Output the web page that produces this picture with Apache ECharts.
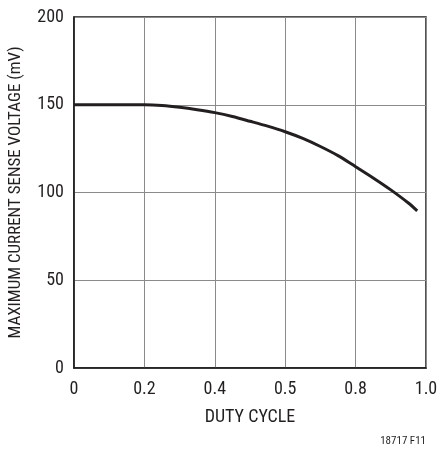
<!DOCTYPE html>
<html>
<head>
<meta charset="utf-8">
<script src="https://cdn.jsdelivr.net/npm/echarts@6/dist/echarts.min.js"></script>
<style>
html,body{margin:0;padding:0;background:#fff;}
#chart{width:439px;height:451px;}
</style>
</head>
<body>
<div id="chart"></div>
<script>
const dutyCycle = [0, 0.1, 0.2, 0.25, 0.3, 0.35, 0.4, 0.45, 0.5, 0.55, 0.6, 0.65, 0.7, 0.75, 0.8, 0.85, 0.9, 0.95, 0.975];
const senseVoltage = [150, 150, 150, 149.6, 148.6, 147.2, 145.5, 143.3, 140.6, 137.8, 134.6, 130.8, 126.2, 121.0, 114.7, 108.3, 101.5, 94.0, 89.5];
const xTickLabels = ['0', '0.2', '0.4', '0.5', '0.8', '1.0'];
const yTickLabels = ['0', '50', '100', '150', '200'];
const xTitle = 'DUTY CYCLE';
const yTitle = 'MAXIMUM CURRENT SENSE VOLTAGE (mV)';
const figNote = '18717 F11';

const font = '"Liberation Sans Narrow", "Arial Narrow", "Roboto Condensed", "Liberation Sans", sans-serif';
const chart = echarts.init(document.getElementById('chart'), null, {renderer: 'canvas'});
chart.setOption({
  animation: false,
  backgroundColor: '#ffffff',
  grid: {left: 74, right: 13, top: 17, bottom: 83, containLabel: false, outerBoundsMode: 'none',
         show: true, borderColor: '#1a1a1a', borderWidth: 1.5, backgroundColor: 'transparent'},
  xAxis: {
    type: 'value', min: 0, max: 1, interval: 0.2,
    name: xTitle, nameLocation: 'middle', nameGap: 40,
    nameTextStyle: {fontFamily: font, fontSize: 18, color: '#231f20'},
    axisLine: {show: true, lineStyle: {color: '#1a1a1a', width: 1.5}},
    axisTick: {show: false},
    splitLine: {show: true, lineStyle: {color: '#8a8a8a', width: 1}},
    axisLabel: {
      fontFamily: font, fontSize: 18, color: '#231f20', margin: 12,
      formatter: function (v) { return xTickLabels[Math.round(v / 0.2)]; }
    }
  },
  yAxis: {
    type: 'value', min: 0, max: 200, interval: 50,
    name: yTitle, nameLocation: 'middle', nameGap: 50, nameRotate: 90,
    nameTextStyle: {fontFamily: font, fontSize: 17, color: '#231f20'},
    axisLine: {show: true, lineStyle: {color: '#1a1a1a', width: 1.5}},
    axisTick: {show: false},
    splitLine: {show: true, lineStyle: {color: '#8a8a8a', width: 1}},
    axisLabel: {
      fontFamily: font, fontSize: 18, color: '#231f20', margin: 10,
      formatter: function (v) { return yTickLabels[Math.round(v / 50)]; }
    }
  },
  graphic: [{
    type: 'text', right: 13, bottom: 4,
    style: {text: figNote, fontFamily: font, fontSize: 11, fill: '#231f20'}
  }],
  series: [{
    type: 'line', smooth: 0.3, showSymbol: false,
    data: dutyCycle.map((x, i) => [x, senseVoltage[i]]),
    lineStyle: {color: '#231f20', width: 3}
  }]
});
</script>
</body>
</html>
